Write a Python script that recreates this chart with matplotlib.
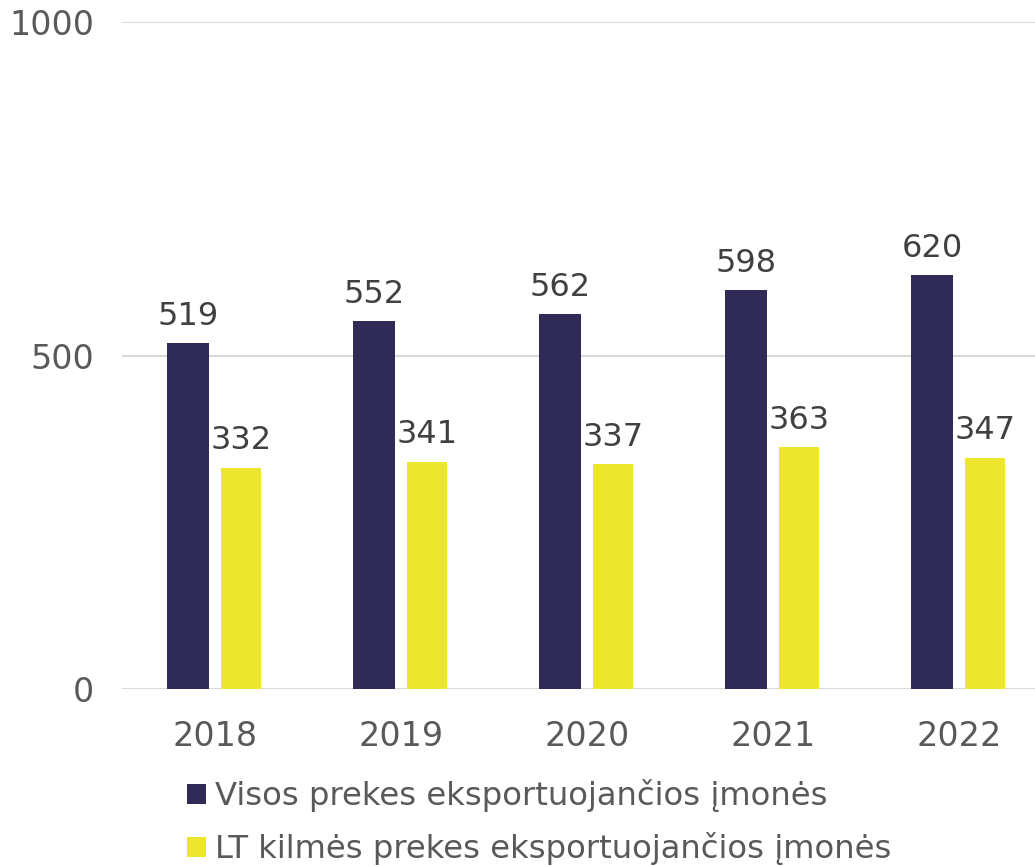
import matplotlib.pyplot as plt
import numpy as np

years = ["2018", "2019", "2020", "2021", "2022"]
visos = [519, 552, 562, 598, 620]
lt_kilmes = [332, 341, 337, 363, 347]
series_names = ["Visos prekes eksportuojančios įmonės",
                "LT kilmės prekes eksportuojančios įmonės"]

navy = "#302a56"
yellow = "#ece62f"
tick_color = "#595959"
label_color = "#404040"

plt.rcParams["font.family"] = ["DejaVu Sans"]

fig = plt.figure(figsize=(10.35, 8.66), dpi=100)
ax = fig.add_axes([122 / 1035, 1 - 689 / 866, 913 / 1035, 667 / 866])

x = np.arange(len(years))
b1 = ax.bar(x - 0.145, visos, width=0.222, color=navy, label=series_names[0], zorder=3)
b2 = ax.bar(x + 0.14, lt_kilmes, width=0.215, color=yellow, label=series_names[1], zorder=3)

for bars in (b1, b2):
    ax.bar_label(bars, padding=8, fontsize=23, color=label_color)

ax.set_ylim(0, 1000)
ax.set_xlim(-0.5, -0.5 + 913 / 186)
ax.set_yticks([0, 500, 1000])
ax.set_xticks(x)
ax.set_xticklabels(years)
ax.tick_params(axis="both", length=0, labelsize=24, labelcolor=tick_color)
ax.tick_params(axis="y", pad=20)
ax.tick_params(axis="x", pad=22)
ax.yaxis.grid(True, color="#d9d9d9", linewidth=1.5, zorder=0)
for s in ax.spines.values():
    s.set_visible(False)

fig.legend(handles=[b1, b2], labels=series_names, loc="upper left",
           bbox_to_anchor=(187 / 1035, 1 - 779 / 866), frameon=False,
           fontsize=23.2, labelcolor=tick_color, handlelength=0.58,
           handleheight=0.58, handletextpad=0.3, labelspacing=0.62,
           borderpad=0, borderaxespad=0)

fig.savefig("out.png", dpi=100)
